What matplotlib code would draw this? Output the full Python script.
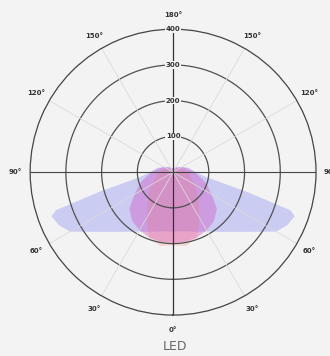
import numpy as np
import matplotlib
matplotlib.use('Agg')
import matplotlib.pyplot as plt

# angle from nadir (deg), one side; mirrored for the other side
angles = [0, 10, 20, 30, 40, 50, 60, 65, 70, 72, 75, 78, 82, 90, 105, 120, 150, 180]
wide_lens = [167, 168, 178, 192, 218, 260, 333, 352, 362, 345, 215, 135, 90, 65, 45, 30, 15, 10]
narrow_lens = [198, 198, 195, 188, 178, 160, 125, 110, 100, 95, 88, 80, 72, 60, 40, 28, 15, 10]
spot = [205, 210, 195, 150, 110, 90, 70, 60, 55, 52, 50, 48, 45, 40, 30, 20, 10, 5]

r_ticks = [100, 200, 300, 400]
theta_ticks = [0, 30, 60, 90, 120, 150, 180, 210, 240, 270, 300, 330]
theta_labels = ['0°', '30°', '60°', '90°', '120°', '150°', '180°',
                '150°', '120°', '90°', '60°', '30°']

bg = '#f3f3f3'


def mirror(a, v):
    a = np.array(a, dtype=float)
    v = np.array(v, dtype=float)
    th = np.concatenate([-a[::-1], a[1:]])
    rr = np.concatenate([v[::-1], v[1:]])
    return np.radians(th), rr


fig = plt.figure(figsize=(3.3, 3.56), dpi=100, facecolor=bg)
ax = fig.add_axes([0.091, 0.115, 0.867, 0.803], projection='polar')
ax.set_facecolor(bg)
ax.set_theta_zero_location('S')
ax.set_theta_direction(1)
ax.set_ylim(0, 400)

for vals, col, al in [(wide_lens, '#9496f0', 0.42),
                      (narrow_lens, '#d24cc4', 0.38),
                      (spot, '#f07070', 0.22)]:
    th, rr = mirror(angles, vals)
    ax.fill(th, rr, color=col, alpha=al, lw=0)

# grid
ax.grid(False)
ax.spines['polar'].set_color('#444444')
ax.spines['polar'].set_linewidth(0.9)
tt = np.linspace(0, 2 * np.pi, 361)
for r in r_ticks[:-1]:
    ax.plot(tt, np.full_like(tt, r), color='#505050', lw=0.9)
for t in theta_ticks:
    if t % 90 == 0:
        continue
    ax.plot([np.radians(t)] * 2, [0, 400], color='#dadada', lw=0.6)
ax.plot([0, np.pi], [400, 400], color='#333333', lw=0.9)
ax.plot([np.pi / 2, -np.pi / 2], [400, 400], color='#444444', lw=0.8)

ax.set_xticks(np.radians(theta_ticks))
ax.set_xticklabels(theta_labels, fontsize=5, color='#333333', fontweight='bold')
ax.tick_params(axis='x', pad=0)
ax.set_yticks([])
for r in r_ticks:
    ax.text(np.pi, r, str(r), fontsize=5, color='#333333', fontweight='bold',
            ha='center', va='center',
            bbox=dict(facecolor=bg, edgecolor='none', pad=0.5))

fig.text(0.53, 0.028, 'LED', fontsize=9, color='#666666', ha='center', va='center')

fig.savefig('out.png', dpi=100, facecolor=bg)
